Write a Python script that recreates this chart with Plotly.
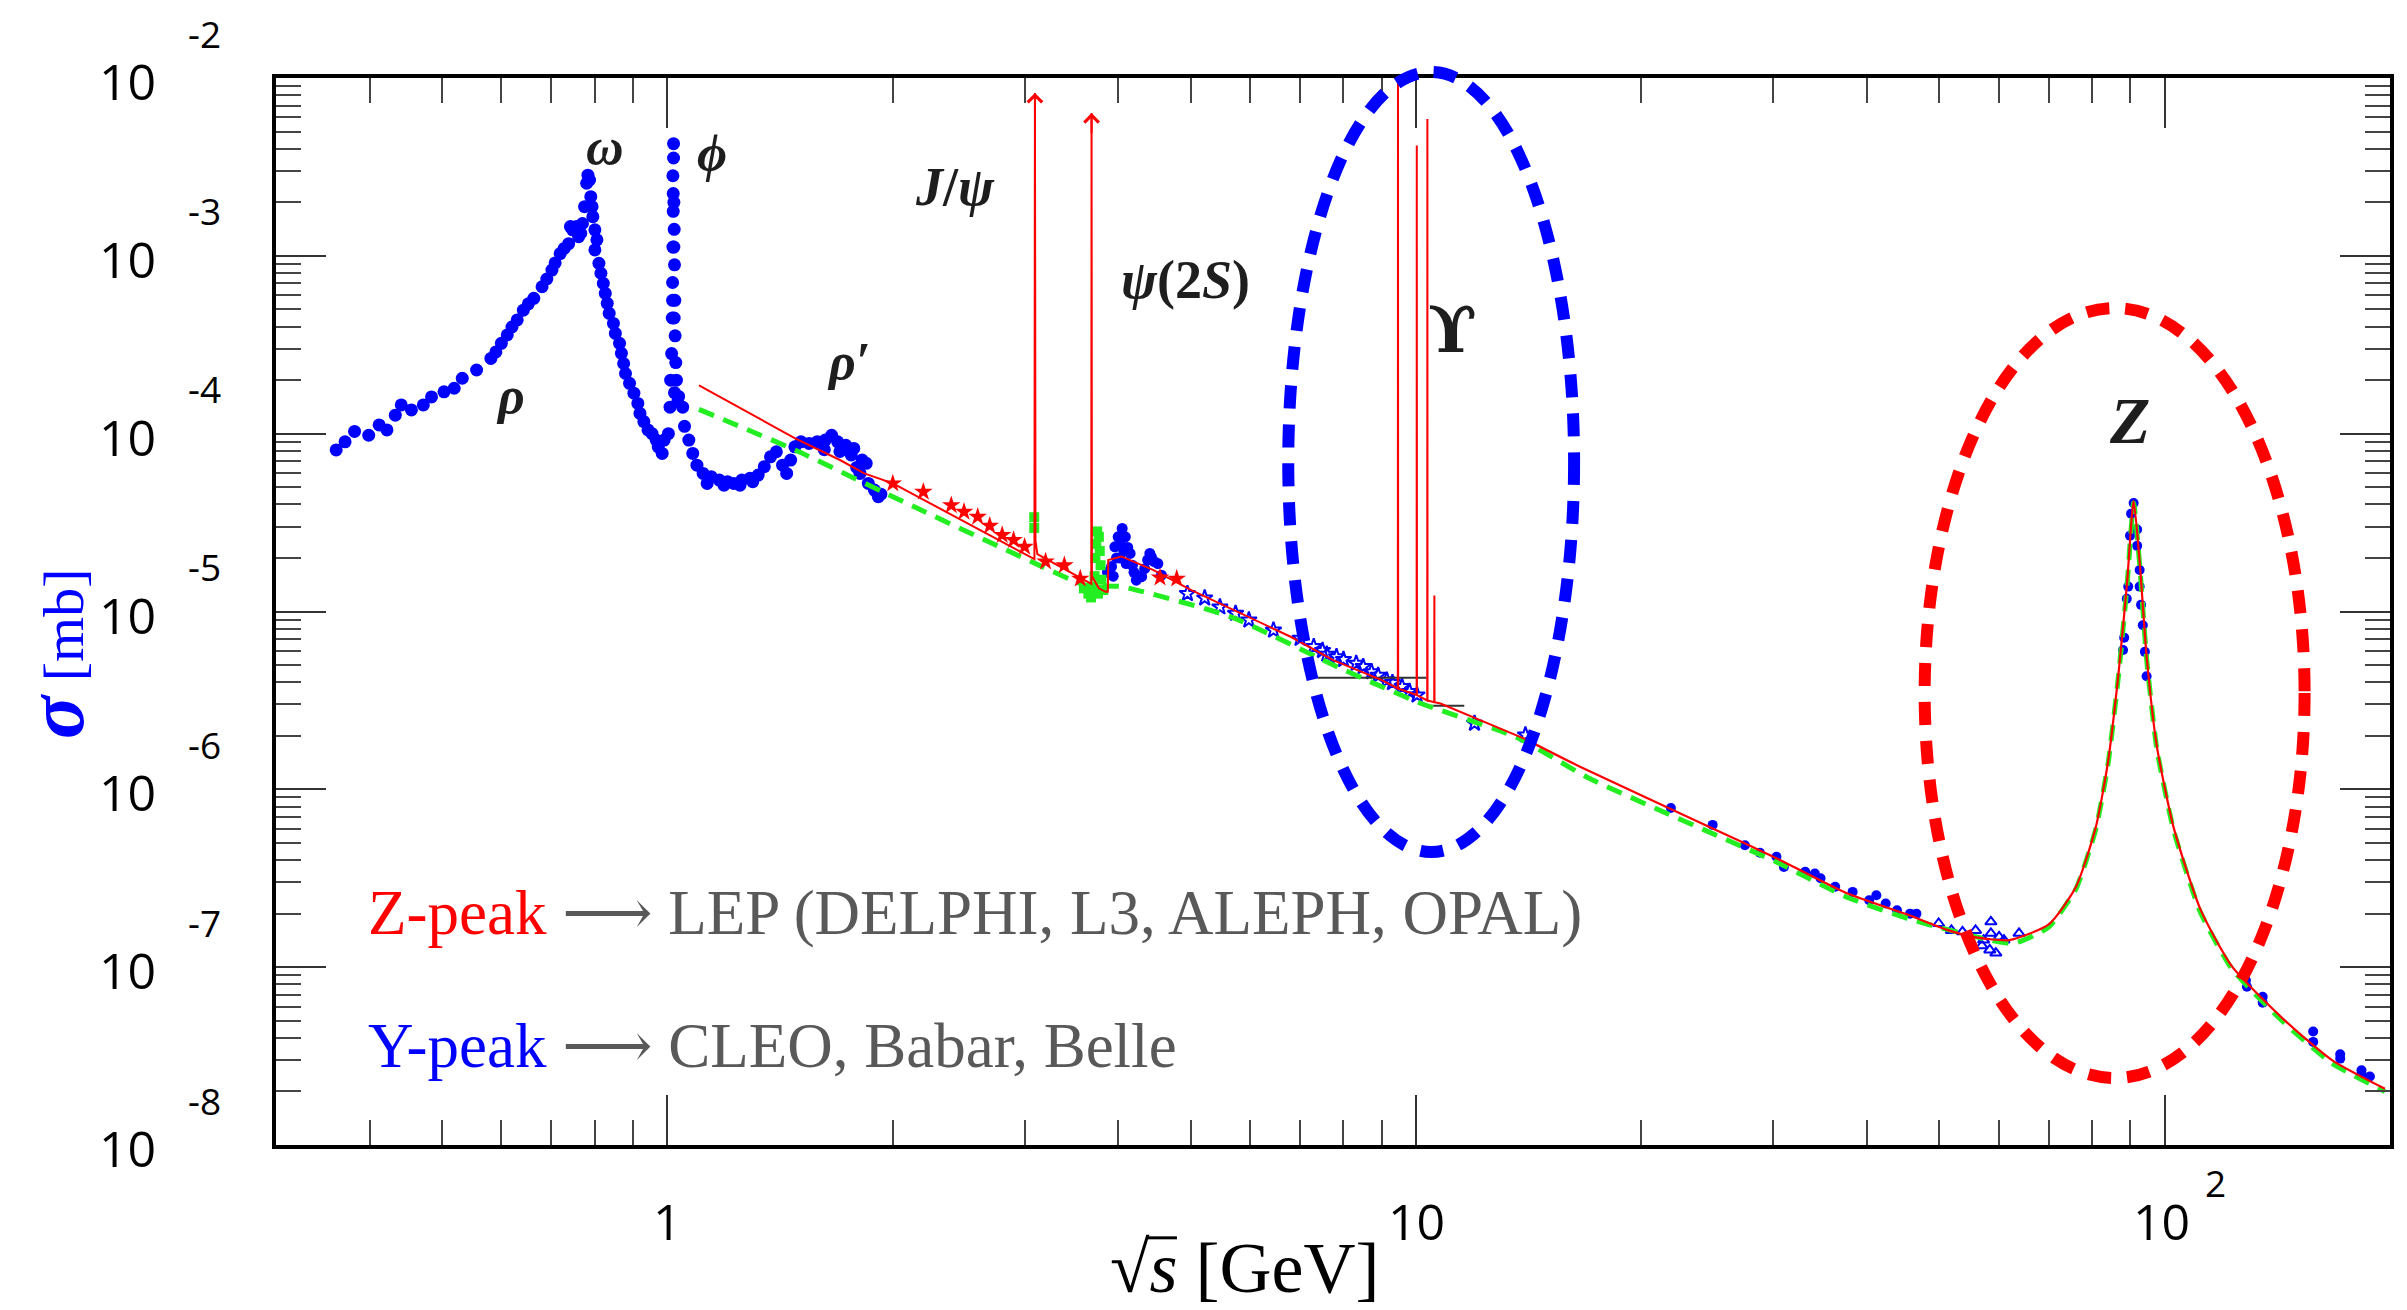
import math
import plotly.graph_objects as go

# ---------------- values (sqrt(s) in GeV, sigma in mb) ----------------
# low-energy data: rho, omega, phi, rho'
low_points = [
    (0.361, 8.1e-5), (0.371, 9.0e-5), (0.382, 1.03e-4), (0.399, 9.8e-5), (0.412, 1.12e-4), (0.422, 1.05e-4),
    (0.433, 1.27e-4), (0.441, 1.45e-4), (0.455, 1.36e-4), (0.472, 1.45e-4), (0.484, 1.61e-4), (0.503, 1.72e-4),
    (0.519, 1.80e-4), (0.532, 2.05e-4), (0.556, 2.28e-4), (0.581, 2.65e-4), (0.590, 2.88e-4), (0.600, 3.22e-4),
    (0.611, 3.59e-4), (0.620, 3.98e-4), (0.630, 4.36e-4), (0.642, 4.95e-4), (0.652, 5.37e-4), (0.663, 5.77e-4),
    (0.680, 6.70e-4), (0.690, 7.41e-4), (0.701, 8.32e-4), (0.708, 9.12e-4), (0.719, 1.03e-3), (0.728, 1.10e-3),
    (0.738, 1.17e-3), (0.742, 1.46e-3), (0.747, 1.40e-3), (0.756, 1.46e-3), (0.761, 1.28e-3), (0.766, 1.34e-3),
    (0.770, 1.52e-3), (0.775, 1.89e-3), (0.780, 2.56e-3), (0.783, 2.84e-3), (0.787, 2.67e-3), (0.790, 2.15e-3),
    (0.793, 1.89e-3), (0.795, 1.66e-3), (0.800, 1.40e-3), (0.805, 1.23e-3), (0.800, 1.08e-3), (0.810, 9.08e-4),
    (0.815, 7.98e-4), (0.821, 7.0e-4), (0.826, 6.15e-4), (0.831, 5.41e-4), (0.836, 4.75e-4), (0.847, 4.17e-4),
    (0.852, 3.66e-4), (0.863, 3.22e-4), (0.868, 2.83e-4), (0.874, 2.48e-4), (0.879, 2.18e-4), (0.890, 1.92e-4),
    (0.902, 1.69e-4), (0.913, 1.48e-4), (0.919, 1.30e-4), (0.930, 1.17e-4), (0.942, 1.05e-4), (0.954, 1.0e-4),
    (0.966, 9.2e-5), (0.972, 8.43e-5), (0.984, 7.74e-5), (0.990, 9.2e-5), (1.003, 1.0e-4),
    (1.008, 1.41e-4), (1.010, 2.0e-4), (1.013, 2.82e-4), (1.015, 4.47e-4), (1.016, 7.08e-4), (1.016, 5.62e-4),
    (1.017, 1.12e-3), (1.017, 2.82e-3), (1.018, 1.78e-3), (1.018, 2.24e-3), (1.019, 4.27e-3), (1.019, 3.55e-3),
    (1.020, 2.0e-3), (1.020, 1.12e-3), (1.021, 1.41e-3), (1.021, 4.47e-4), (1.022, 8.9e-4), (1.022, 1.70e-4),
    (1.023, 5.62e-4), (1.024, 3.55e-4), (1.026, 2.51e-4), (1.028, 2.0e-4), (1.032, 1.51e-4), (1.035, 1.62e-4),
    (1.048, 1.41e-4), (1.054, 1.10e-4), (1.068, 9.2e-5), (1.081, 7.74e-5), (1.095, 6.65e-5), (1.116, 5.98e-5),
    (1.130, 5.25e-5), (1.144, 5.73e-5), (1.173, 5.48e-5), (1.190, 5.13e-5), (1.203, 5.37e-5), (1.226, 5.25e-5),
    (1.250, 5.13e-5), (1.257, 5.48e-5), (1.289, 5.61e-5), (1.300, 5.37e-5), (1.322, 5.85e-5), (1.347, 6.52e-5),
    (1.373, 7.41e-5), (1.398, 7.91e-5), (1.425, 6.65e-5), (1.443, 5.98e-5), (1.461, 7.10e-5), (1.480, 8.43e-5),
    (1.508, 9.0e-5), (1.546, 8.81e-5), (1.585, 9.0e-5), (1.620, 8.13e-5), (1.625, 9.2e-5), (1.657, 9.8e-5),
    (1.688, 9.0e-5), (1.700, 7.94e-5), (1.731, 8.61e-5), (1.760, 7.59e-5), (1.774, 8.26e-5), (1.790, 6.46e-5),
    (1.808, 5.98e-5), (1.820, 7.10e-5), (1.843, 6.81e-5), (1.855, 5.25e-5), (1.890, 4.82e-5), (1.913, 4.42e-5),
    (1.928, 4.57e-5),
]

# charm-threshold region (blue)
charm_points = [
    (3.87, 1.66e-5), (3.92, 1.79e-5), (3.94, 1.58e-5), (3.96, 2.31e-5), (3.98, 2.0e-5), (4.00, 2.63e-5),
    (4.02, 2.0e-5), (4.03, 2.40e-5), (4.05, 2.93e-5), (4.07, 2.19e-5), (4.09, 2.63e-5), (4.10, 1.86e-5),
    (4.12, 2.29e-5), (4.15, 2.12e-5), (4.18, 1.82e-5), (4.20, 1.66e-5), (4.23, 1.50e-5), (4.27, 1.58e-5),
    (4.30, 1.57e-5), (4.34, 1.74e-5), (4.38, 1.95e-5), (4.41, 2.12e-5), (4.43, 2.03e-5), (4.47, 1.91e-5),
    (4.52, 1.86e-5), (4.57, 1.60e-5),
]

# green data near J/psi and psi(2S)
green_points = [
    (3.09, 3.39e-5), (3.09, 2.95e-5), (3.60, 1.35e-5), (3.65, 1.26e-5), (3.68, 1.20e-5), (3.70, 1.38e-5),
    (3.72, 1.58e-5), (3.73, 2.0e-5), (3.74, 2.40e-5), (3.75, 2.82e-5), (3.77, 2.63e-5), (3.78, 2.19e-5),
    (3.79, 1.82e-5), (3.80, 1.51e-5), (3.82, 1.32e-5), (3.76, 1.26e-5),
]

# red stars (2 - 5 GeV)
red_star_points = [
    (2.0, 5.25e-5), (2.197, 4.71e-5), (2.394, 3.96e-5), (2.49, 3.64e-5), (2.597, 3.41e-5), (2.695, 3.03e-5),
    (2.80, 2.69e-5), (2.90, 2.52e-5), (3.0, 2.31e-5), (3.20, 1.91e-5), (3.39, 1.82e-5), (3.56, 1.53e-5),
    (4.55, 1.55e-5), (4.79, 1.53e-5),
]

# blue open stars (5 - 14 GeV)
continuum_points = [
    (4.95, 1.26e-5), (5.22, 1.19e-5), (5.47, 1.06e-5), (5.74, 9.75e-6), (5.98, 8.95e-6), (6.45, 7.85e-6),
    (7.0, 7.06e-6), (7.30, 6.34e-6), (7.5, 6.03e-6), (7.6, 5.75e-6), (7.83, 5.56e-6), (8.0, 5.37e-6),
    (8.32, 5.11e-6), (8.5, 4.90e-6), (8.72, 4.58e-6), (8.9, 4.37e-6), (9.14, 4.11e-6), (9.3, 3.98e-6),
    (9.58, 3.78e-6), (9.8, 3.55e-6), (10.03, 3.39e-6), (11.97, 2.35e-6), (14.0, 2.02e-6),
]

# blue filled points (PETRA / TRISTAN energies)
mid_points = [
    (21.9, 7.85e-7), (24.9, 6.31e-7), (27.5, 4.85e-7), (28.8, 4.40e-7), (30.3, 4.18e-7), (31.0, 3.66e-7),
    (33.1, 3.44e-7), (34.1, 3.36e-7), (34.7, 3.16e-7), (36.3, 2.83e-7), (38.3, 2.65e-7), (40.3, 2.38e-7),
    (41.2, 2.54e-7), (42.4, 2.28e-7), (43.9, 2.09e-7), (45.7, 2.0e-7), (46.6, 2.0e-7),
]

# open triangles (50 - 64 GeV)
tri_points = [
    (49.9, 1.76e-7), (51.9, 1.61e-7), (53.7, 1.58e-7), (55.9, 1.61e-7), (57.0, 1.32e-7), (57.3, 1.42e-7),
    (58.4, 1.25e-7), (58.6, 1.80e-7), (58.6, 1.55e-7), (59.5, 1.20e-7), (60.1, 1.48e-7), (61.0, 1.42e-7),
    (63.9, 1.55e-7),
]

# Z peak and above
z_points = [
    (88.0, 6.08e-6), (88.3, 7.13e-6), (89.0, 1.18e-5), (89.4, 1.38e-5), (89.9, 2.67e-5), (90.2, 3.55e-5),
    (90.9, 4.07e-5), (91.9, 2.89e-5), (91.9, 2.34e-5), (92.6, 1.71e-5), (92.6, 1.38e-5), (93.0, 1.09e-5),
    (93.5, 8.36e-6), (94.1, 5.93e-6), (94.6, 4.32e-6),
]
high_points = [
    (128.4, 8.41e-8), (128.8, 7.76e-8), (135.2, 6.81e-8), (135.2, 6.31e-8), (157.9, 4.35e-8), (157.9, 3.80e-8),
    (171.6, 3.24e-8), (171.6, 3.06e-8), (183.2, 2.63e-8), (183.2, 2.51e-8), (188.0, 2.43e-8),
]

# red solid curve (with narrow resonances)
red_curve_low = [
    (1.102, 1.87e-4), (1.398, 1.07e-4), (1.481, 9.42e-5), (1.700, 7.11e-5), (1.832, 5.98e-5), (2.001, 5.25e-5),
    (3.06, 2.03e-5), (3.092, 1.97e-5), (3.097, 8.24e-3), (3.102, 2.51e-5), (3.12, 2.10e-5), (3.65, 1.45e-5),
    (3.683, 1.43e-5), (3.686, 6.35e-3), (3.690, 1.58e-5), (3.77, 1.35e-5), (3.85, 1.29e-5), (3.875, 1.29e-5),
    (3.88, 1.95e-5), (4.04, 2.04e-5), (4.46, 1.71e-5), (5.01, 1.32e-5), (5.77, 9.98e-6), (6.8, 7.21e-6),
    (7.75, 5.33e-6), (9.0, 4.11e-6), (9.455, 3.69e-6), (9.460, 1.26e-2), (9.465, 3.69e-6), (10.018, 3.39e-6),
    (10.023, 4.17e-3), (10.028, 3.39e-6), (10.350, 3.16e-6), (10.355, 5.89e-3), (10.360, 3.16e-6),
    (10.575, 3.09e-6), (10.58, 1.23e-5), (10.585, 3.09e-6), (10.78, 3.04e-6), (13.95, 1.93e-6),
]
red_curve_high = [
    (13.95, 1.93e-6), (16.56, 1.34e-6), (24.9, 6.03e-7), (30.3, 4.1e-7), (37.5, 2.62e-7), (45.7, 1.95e-7),
    (51.2, 1.62e-7), (56.0, 1.47e-7), (62.0, 1.42e-7), (70.0, 1.74e-7), (76.1, 2.82e-7), (80.9, 6.11e-7),
    (84.0, 1.42e-6), (86.8, 4.55e-6), (89.1, 1.46e-5), (90.9, 4.19e-5), (92.6, 1.90e-5), (94.6, 5.62e-6),
    (97.6, 1.76e-6), (102.8, 6.11e-7), (111.6, 2.12e-7), (123.0, 1.01e-7), (144.2, 5.09e-8), (167.3, 3.0e-8),
    (196.9, 2.07e-8),
]

# green dashed curve
green_curve = [
    (1.102, 1.37e-4), (1.481, 8.09e-5), (2.0, 4.42e-5), (3.06, 1.91e-5), (3.61, 1.41e-5), (4.04, 1.38e-5),
    (5.66, 9.33e-6), (8.02, 4.68e-6), (10.16, 3.04e-6), (13.6, 1.97e-6), (17.06, 1.15e-6), (30.3, 3.9e-7),
    (37.5, 2.49e-7), (45.7, 1.86e-7), (62.7, 1.36e-7), (70.0, 1.68e-7), (76.1, 2.75e-7), (80.9, 5.96e-7),
    (84.0, 1.38e-6), (86.8, 4.42e-6), (89.1, 1.41e-5), (90.9, 4.07e-5), (92.6, 1.84e-5), (94.6, 5.43e-6),
    (97.6, 1.70e-6), (102.8, 5.89e-7), (111.6, 2.04e-7), (123.0, 9.77e-8), (144.2, 4.90e-8), (167.3, 2.88e-8),
    (196.9, 2.0e-8),
]

# black horizontal bars near the Upsilon region: (E start, E end, sigma)
black_bars = [(7.39, 10.33, 4.24e-6), (10.33, 11.6, 2.95e-6)]

# arrow tips of J/psi and psi(2S)
arrow_tips = [(3.097, 8.24e-3), (3.686, 6.35e-3)]

# resonance labels: (text, E, sigma, size)
resonance_labels = [
    ("<b><i>ω</i></b>", 0.826, 4.12e-3, 52),
    ("<b><i>ϕ</i></b>", 1.148, 3.74e-3, 52),
    ("<b><i>ρ</i></b>", 0.617, 1.63e-4, 52),
    ("<b><i>ρ′</i></b>", 1.745, 2.56e-4, 52),
    ("<b><i>J</i>/<i>ψ</i></b>", 2.424, 2.44e-3, 54),
    ("<b><i>ψ</i>(2<i>S</i>)</b>", 4.925, 7.31e-4, 54),
    ("<b><i>Z</i></b>", 89.8, 1.19e-4, 66),
]
upsilon_label = ("<b>ϒ</b>", 11.2, 3.83e-4, 64)

# highlight ellipses: (E min, E max, top / bottom as fraction of plot height, colour)
ellipses = [
    (6.75, 16.26, 0.2746, 1.0056, "#0000ff"),
    (47.8, 153.8, 0.0628, 0.7844, "#ff0000"),
]

# axes
x_range = (0.3, 200)
y_range = (1e-8, 1e-2)
x_major = [1, 10, 100]
x_minor = [0.3, 0.4, 0.5, 0.6, 0.7, 0.8, 0.9, 2, 3, 4, 5, 6, 7, 8, 9, 20, 30, 40, 50, 60, 70, 80, 90]
y_exponents = [-2, -3, -4, -5, -6, -7, -8]
y_minor = [m * 10.0 ** e for e in range(-8, -2) for m in range(2, 10)]


def xs(pts):
    return [p[0] for p in pts]


def ys(pts):
    return [p[1] for p in pts]


BLUE = "#0000ff"
RED = "#ff0000"
GREEN = "#22ee22"

fig = go.Figure()

fig.add_trace(go.Scatter(x=xs(low_points), y=ys(low_points), mode="markers",
                         marker=dict(symbol="circle", size=13, color=BLUE)))
fig.add_trace(go.Scatter(x=xs(charm_points), y=ys(charm_points), mode="markers",
                         marker=dict(symbol="circle", size=11, color=BLUE)))
fig.add_trace(go.Scatter(x=xs(green_points), y=ys(green_points), mode="markers",
                         marker=dict(symbol="square", size=10, color=GREEN)))
fig.add_trace(go.Scatter(x=xs(continuum_points), y=ys(continuum_points), mode="markers",
                         marker=dict(symbol="star-open", size=12, color=BLUE, line=dict(width=2, color=BLUE))))
fig.add_trace(go.Scatter(x=xs(mid_points), y=ys(mid_points), mode="markers",
                         marker=dict(symbol="circle", size=10, color=BLUE)))
fig.add_trace(go.Scatter(x=xs(tri_points), y=ys(tri_points), mode="markers",
                         marker=dict(symbol="triangle-up-open", size=10, color=BLUE, line=dict(width=2, color=BLUE))))
fig.add_trace(go.Scatter(x=xs(z_points), y=ys(z_points), mode="markers",
                         marker=dict(symbol="circle", size=10, color=BLUE)))
fig.add_trace(go.Scatter(x=xs(high_points), y=ys(high_points), mode="markers",
                         marker=dict(symbol="circle", size=10, color=BLUE)))

# black bars
bx, by = [], []
for e0, e1, s in black_bars:
    bx += [e0, e1, None]
    by += [s, s, None]
fig.add_trace(go.Scatter(x=bx, y=by, mode="lines", line=dict(color="#333333", width=2)))

# curves
fig.add_trace(go.Scatter(x=xs(green_curve), y=ys(green_curve), mode="lines",
                         line=dict(color=GREEN, width=5, dash="16px,10px", shape="spline", smoothing=0.5)))
fig.add_trace(go.Scatter(x=xs(red_curve_low), y=ys(red_curve_low), mode="lines",
                         line=dict(color=RED, width=2)))
fig.add_trace(go.Scatter(x=xs(red_curve_high), y=ys(red_curve_high), mode="lines",
                         line=dict(color=RED, width=2.2, shape="spline", smoothing=0.6)))
fig.add_trace(go.Scatter(x=xs(red_star_points), y=ys(red_star_points), mode="markers",
                         marker=dict(symbol="star", size=14, color=RED)))

# ellipses (x in data, y as fraction of the plot height so they may overhang the frame)
for e0, e1, f0, f1, col in ellipses:
    fig.add_shape(type="circle", xref="x", yref="paper", x0=e0, x1=e1, y0=f0, y1=f1,
                  line=dict(color=col, width=12, dash="23px,16px"), layer="above")

# vinculum of the square root in the x-axis title
fig.add_shape(type="line", xref="paper", yref="paper", x0=0.4122, x1=0.4262, y0=-0.0870, y1=-0.0870,
              line=dict(color="#000000", width=3))

ann = []
# arrowheads on J/psi and psi(2S)
for e, s in arrow_tips:
    ann.append(dict(x=math.log10(e), y=math.log10(s), xref="x", yref="y", text="", showarrow=True,
                    ax=0, ay=22, arrowhead=4, arrowsize=1.4, arrowwidth=2, arrowcolor=RED, standoff=0))

LABEL_FONT = "Liberation Serif"
for txt, e, s, size in resonance_labels:
    ann.append(dict(x=math.log10(e), y=math.log10(s), xref="x", yref="y", text=txt, showarrow=False,
                    font=dict(family=LABEL_FONT, size=size, color="#1e1e1e"), xanchor="center", yanchor="middle"))
txt, e, s, size = upsilon_label
ann.append(dict(x=math.log10(e), y=math.log10(s), xref="x", yref="y", text=txt, showarrow=False,
                font=dict(family="DejaVu Serif", size=size, color="#1e1e1e"), xanchor="center", yanchor="middle"))

TICK_FONT = "Open Sans"
# y tick labels  10^-n
for ex in y_exponents:
    ann.append(dict(x=-0.0558, xref="paper", y=ex, yref="y", text="10", showarrow=False, xanchor="right",
                    yanchor="middle", yshift=-3, font=dict(family=TICK_FONT, size=50, color="#000000")))
    ann.append(dict(x=-0.0425, xref="paper", y=ex, yref="y", text=f"{ex}", showarrow=False, xanchor="left",
                    yanchor="middle", yshift=45, font=dict(family=TICK_FONT, size=37, color="#000000")))
# x tick labels
for v in x_major:
    lab = "1" if v == 1 else "10"
    ann.append(dict(x=math.log10(v), xref="x", y=-0.071, yref="paper", text=lab, showarrow=False,
                    xanchor="center", yanchor="middle", xshift=(-3 if v == 100 else 0),
                    font=dict(family=TICK_FONT, size=50, color="#000000")))
ann.append(dict(x=math.log10(100), xref="x", y=-0.035, yref="paper", text="2", showarrow=False,
                xanchor="left", yanchor="middle", xshift=38, font=dict(family=TICK_FONT, size=37, color="#000000")))

# axis titles
ann.append(dict(x=0.4579, xref="paper", y=-0.1153, yref="paper", text="√<i>s</i> [GeV]", showarrow=False,
                xanchor="center", yanchor="middle", font=dict(family=LABEL_FONT, size=72, color="#000000")))
ann.append(dict(x=-0.1041, xref="paper", y=0.4602, yref="paper",
                text='<span style="font-size:80px"><b><i>σ</i></b></span> [mb]', showarrow=False, textangle=-90,
                xanchor="center", yanchor="middle", font=dict(family=LABEL_FONT, size=58, color=BLUE)))

# experiment notes
GRAY = "#595959"
ARROW = '<span style="font-family:DejaVu Serif">⟶</span>'
ann.append(dict(x=0.0425, xref="paper", y=0.218, yref="paper",
                text='<span style="color:#ff0000">Z-peak</span> ' + ARROW + ' LEP (DELPHI, L3, ALEPH, OPAL)',
                showarrow=False, xanchor="left", yanchor="middle", font=dict(family=LABEL_FONT, size=63, color=GRAY)))
ann.append(dict(x=0.0425, xref="paper", y=0.0933, yref="paper",
                text='<span style="color:#0000ff">Y-peak</span> ' + ARROW + ' CLEO, Babar, Belle',
                showarrow=False, xanchor="left", yanchor="middle", font=dict(family=LABEL_FONT, size=63, color=GRAY)))

axis_common = dict(showline=True, linewidth=4, linecolor="#000000", mirror="ticks", ticks="inside",
                   ticklen=50, tickwidth=2, tickcolor="#333333", showticklabels=False, showgrid=False,
                   zeroline=False)

fig.update_layout(
    width=2407, height=1310,
    margin=dict(l=276, r=17, t=78, b=165),
    paper_bgcolor="white", plot_bgcolor="white",
    showlegend=False,
    xaxis=dict(type="log", range=[math.log10(x_range[0]), math.log10(x_range[1])], tickmode="array",
               tickvals=x_major,
               minor=dict(tickmode="array", tickvals=x_minor, ticklen=25, tickwidth=2, tickcolor="#444444",
                          ticks="inside", showgrid=False), **axis_common),
    yaxis=dict(type="log", range=[math.log10(y_range[0]), math.log10(y_range[1])], tickmode="array",
               tickvals=[10.0 ** e for e in y_exponents],
               minor=dict(tickmode="array", tickvals=y_minor, ticklen=25, tickwidth=2, tickcolor="#444444",
                          ticks="inside", showgrid=False), **axis_common),
    annotations=ann,
)

fig.write_html("out.html")
